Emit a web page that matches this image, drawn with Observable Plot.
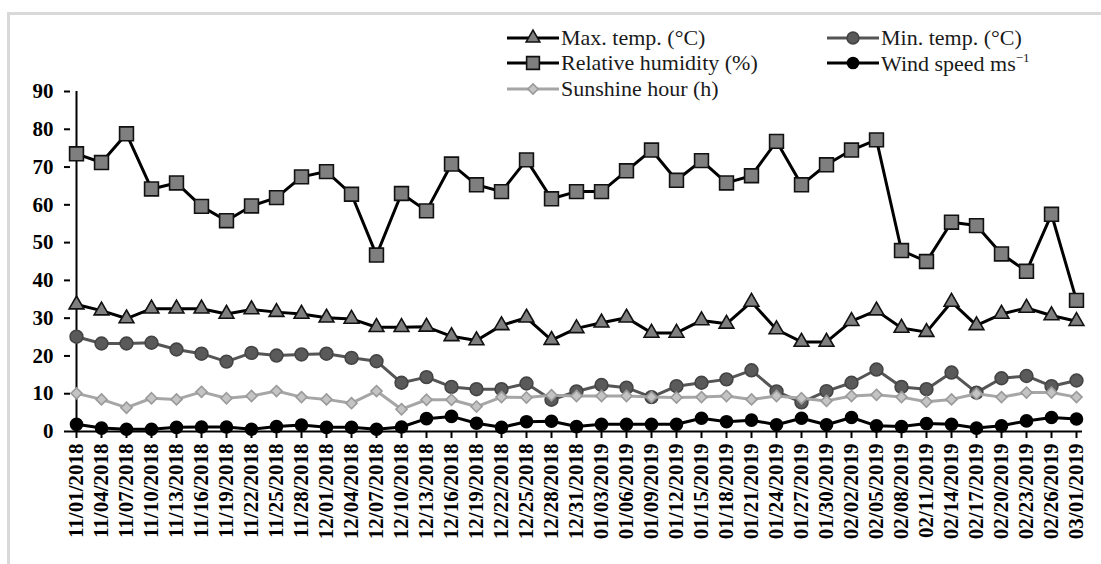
<!DOCTYPE html>
<html>
<head>
<meta charset="utf-8">
<script src="https://cdn.jsdelivr.net/npm/d3@7"></script>
<script src="https://cdn.jsdelivr.net/npm/@observablehq/plot@0.6"></script>
<style>
  html, body { margin: 0; padding: 0; background: #fff; }
  #wrap { position: relative; width: 1101px; height: 564px; overflow: hidden; background: #fff; }
  #frame { position: absolute; left: 7px; top: 12px; width: 1200px; height: 700px;
           border-left: 3px solid #d9d9d9; border-top: 3px solid #d9d9d9; box-sizing: border-box; }
  #chart { position: absolute; left: 0; top: 0; }
  #chart svg, #chart svg text { font-family: "Liberation Serif", "Times New Roman", Times, serif !important; }
  .leg { position: absolute; display: flex; align-items: center;
         font-family: "Liberation Serif", "Times New Roman", Times, serif;
         font-size: 22px; color: #1a1a1a; white-space: nowrap; line-height: 1; }
  .leg svg { display: block; margin-right: 2px; }
  .leg sup { font-size: 13px; vertical-align: 9px; }
</style>
</head>
<body>
<div id="wrap">
  <div id="frame"></div>
  <div id="chart"></div>
</div>
<script>
// ---- data ----
const dates = ["11/01/2018","11/04/2018","11/07/2018","11/10/2018","11/13/2018","11/16/2018","11/19/2018",
  "11/22/2018","11/25/2018","11/28/2018","12/01/2018","12/04/2018","12/07/2018","12/10/2018","12/13/2018",
  "12/16/2018","12/19/2018","12/22/2018","12/25/2018","12/28/2018","12/31/2018","01/03/2019","01/06/2019",
  "01/09/2019","01/12/2019","01/15/2019","01/18/2019","01/21/2019","01/24/2019","01/27/2019","01/30/2019",
  "02/02/2019","02/05/2019","02/08/2019","02/11/2019","02/14/2019","02/17/2019","02/20/2019","02/23/2019",
  "02/26/2019","03/01/2019"];

const maxTemp = [33.6,32.0,29.9,32.5,32.5,32.5,31.1,32.3,31.6,31.1,30.1,29.8,27.6,27.6,27.7,25.2,24.1,28.1,30.1,
  24.2,27.3,28.8,30.1,26.1,26.1,29.4,28.5,34.3,27.0,23.7,23.7,29.2,32.0,27.4,26.3,34.3,28.1,31.1,32.7,30.7,29.2];

const minTemp = [25.1,23.3,23.3,23.5,21.7,20.6,18.5,20.8,20.1,20.4,20.6,19.5,18.6,12.9,14.4,11.8,11.2,11.2,12.7,
  8.4,10.6,12.3,11.6,9.1,12.0,12.9,13.8,16.2,10.6,7.7,10.7,12.9,16.4,11.8,11.2,15.6,10.3,14.1,14.7,12.0,13.5];

const humidity = [73.5,71.2,78.8,64.2,65.8,59.6,55.8,59.7,61.9,67.4,68.8,62.8,46.7,63.0,58.4,70.8,65.3,63.5,71.9,
  61.6,63.5,63.5,69.0,74.5,66.5,71.7,65.8,67.7,76.8,65.3,70.6,74.5,77.2,47.9,45.0,55.4,54.5,47.0,42.4,57.5,34.7];

const windSpeed = [1.9,0.9,0.6,0.6,1.1,1.2,1.2,0.6,1.3,1.7,1.1,1.1,0.6,1.2,3.4,4.0,2.2,1.1,2.6,
  2.7,1.3,1.9,1.9,1.9,1.9,3.5,2.6,3.0,1.8,3.5,1.8,3.7,1.5,1.3,2.1,1.9,0.9,1.5,2.8,3.7,3.3];

const sunshine = [10.1,8.5,6.3,8.8,8.5,10.5,8.8,9.4,10.7,9.1,8.5,7.5,10.7,5.9,8.4,8.4,6.6,9.1,9.0,
  9.6,9.4,9.4,9.4,9.1,9.0,9.1,9.4,8.5,9.4,8.8,8.1,9.4,9.7,9.1,7.9,8.5,10.0,9.1,10.3,10.3,9.1];

const yTicks = [0,10,20,30,40,50,60,70,80,90];

const seriesNames = ["Max. temp. (°C)","Min. temp. (°C)","Relative humidity (%)","Wind speed ms⁻¹","Sunshine hour (h)"];

// ---- styles (separate from data) ----
const styles = {
  "Relative humidity (%)": {values: humidity, line: "#000", symbol: "square", r: 7.8, fill: "#7f7f7f", stroke: "#111"},
  "Max. temp. (°C)":       {values: maxTemp,  line: "#000", symbol: "triangle", r: 5.5, fill: "#7f7f7f", stroke: "#111"},
  "Min. temp. (°C)":       {values: minTemp,  line: "#555555", symbol: "circle", r: 6.4, fill: "#5a5a5a", stroke: "#444"},
  "Sunshine hour (h)":     {values: sunshine, line: "#a6a6a6", symbol: "diamond2", r: 5, fill: "#c4c4c4", stroke: "#9a9a9a"},
  "Wind speed ms⁻¹":       {values: windSpeed, line: "#000", symbol: "circle", r: 6, fill: "#000", stroke: "#000"}
};
const drawOrder = ["Relative humidity (%)","Max. temp. (°C)","Min. temp. (°C)","Sunshine hour (h)","Wind speed ms⁻¹"];

const marks = [];
for (const name of drawOrder) {
  const s = styles[name];
  const rows = dates.map((d, i) => ({date: d, value: s.values[i]}));
  marks.push(Plot.line(rows, {x: "date", y: "value", stroke: s.line, strokeWidth: 3}));
  marks.push(Plot.dot(rows, {x: "date", y: "value", symbol: s.symbol, r: s.r, fill: s.fill, stroke: s.stroke, strokeWidth: 1.6}));
}

const plot = Plot.plot({
  width: 1101,
  height: 564,
  marginLeft: 70,
  marginRight: 19,
  marginTop: 91,
  marginBottom: 133,
  style: {fontFamily: "'Liberation Serif', 'Times New Roman', serif", fontSize: "21px", fontWeight: "bold", background: "transparent", color: "#000"},
  x: {type: "point", domain: dates, padding: 0},
  y: {domain: [0, 90]},
  marks: [
    Plot.axisX({tickRotate: -90, tickSize: 7, tickPadding: 5, strokeWidth: 2, label: null, fontSize: 21}),
    Plot.axisY({ticks: yTicks, tickSize: 6, tickPadding: 11, strokeWidth: 2, label: null, fontSize: 21}),
    Plot.ruleX([dates[0]], {stroke: "#000", strokeWidth: 2}),
    Plot.ruleY([0], {stroke: "#000", strokeWidth: 2}),
    ...marks
  ]
});
document.getElementById("chart").appendChild(plot);

// ---- legend (HTML overlay) ----
const legendPos = {
  "Max. temp. (°C)":       {x: 507, y: 38},
  "Relative humidity (%)": {x: 507, y: 63},
  "Sunshine hour (h)":     {x: 507, y: 89},
  "Min. temp. (°C)":       {x: 827, y: 38},
  "Wind speed ms⁻¹":       {x: 827, y: 63}
};
const wrap = document.getElementById("wrap");
for (const name of seriesNames) {
  const s = styles[name];
  const p = legendPos[name];
  const div = document.createElement("div");
  div.className = "leg";
  div.style.left = p.x + "px";
  div.style.top = (p.y - 12) + "px";
  div.style.height = "24px";
  const svg = d3.create("svg").attr("width", 52).attr("height", 24);
  svg.append("line").attr("x1", 0).attr("x2", 52).attr("y1", 12).attr("y2", 12)
     .attr("stroke", s.line).attr("stroke-width", 3);
  const symMap = {square: d3.symbolSquare, triangle: d3.symbolTriangle, circle: d3.symbolCircle, diamond2: d3.symbolDiamond2};
  svg.append("path").attr("transform", "translate(26,12)")
     .attr("d", d3.symbol(symMap[s.symbol], Math.PI * s.r * s.r * 0.85)())
     .attr("fill", s.fill).attr("stroke", s.stroke).attr("stroke-width", 1.6);
  div.appendChild(svg.node());
  const span = document.createElement("span");
  if (name.startsWith("Wind")) {
    span.innerHTML = "Wind speed ms<sup>−1</sup>";
  } else {
    span.textContent = name;
  }
  div.appendChild(span);
  wrap.appendChild(div);
}
</script>
</body>
</html>
